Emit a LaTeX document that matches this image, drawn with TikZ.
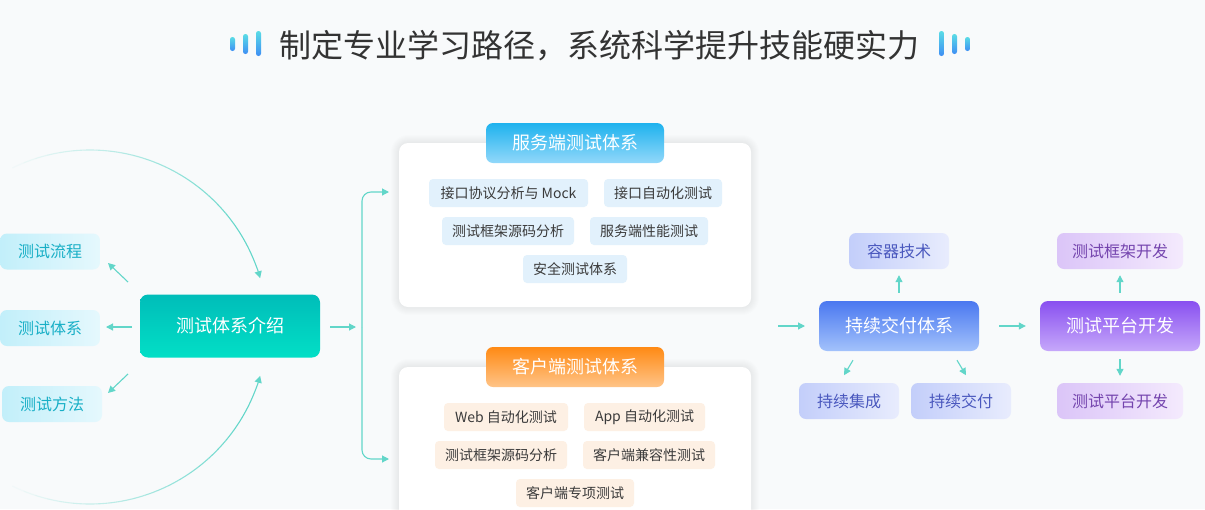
\documentclass[tikz,border=0pt]{standalone}
\usepackage{fontspec}
\setmainfont{Noto Sans CJK SC}
\usetikzlibrary{arrows.meta,calc}
\definecolor{bgc}{HTML}{F8FAFB}
\definecolor{arrc}{HTML}{62D6C9}
\definecolor{titlec}{HTML}{333333}
\definecolor{itemtxt}{HTML}{3A3A3A}
\definecolor{barTop}{HTML}{5ADCE6}
\definecolor{barBot}{HTML}{3E8EF4}
\definecolor{tealTop}{HTML}{00BDB9}
\definecolor{tealBot}{HTML}{02DFC6}
\definecolor{cyanL}{HTML}{C2EFFA}
\definecolor{cyanR}{HTML}{E5F8FD}
\definecolor{cyanTxt}{HTML}{18AFC6}
\definecolor{srvTop}{HTML}{1EB2EE}
\definecolor{srvBot}{HTML}{92D8FA}
\definecolor{srvItem}{HTML}{E2F1FC}
\definecolor{cliTop}{HTML}{FF8A14}
\definecolor{cliBot}{HTML}{FFC488}
\definecolor{cliItem}{HTML}{FDF0E4}
\definecolor{blueTop}{HTML}{4A78F0}
\definecolor{blueBot}{HTML}{A3C2FB}
\definecolor{blueL}{HTML}{C3CEFA}
\definecolor{blueR}{HTML}{E8ECFD}
\definecolor{blueTxt}{HTML}{4A58BE}
\definecolor{purTop}{HTML}{8950F0}
\definecolor{purBot}{HTML}{C6A8FA}
\definecolor{purL}{HTML}{DBC5F8}
\definecolor{purR}{HTML}{F4EAFD}
\definecolor{purTxt}{HTML}{7444AE}
\begin{document}
\begin{tikzpicture}[x=1pt,y=-1pt,
  arr/.style={draw=arrc, line width=1.1pt, -{Triangle[length=7pt,width=7pt]}},
  bar/.style={rounded corners=2.4pt, top color=barTop, bottom color=barBot, draw=none},
  mainbox/.style={rounded corners=8pt, minimum width=#1, minimum height=50pt, inner sep=0pt,
     text=white, font=\fontsize{18}{20}\selectfont},
  sidebox/.style={rounded corners=7pt, minimum width=#1, minimum height=36pt, inner sep=0pt,
     font=\fontsize{16}{18}\selectfont},
  item/.style={rounded corners=4pt, minimum height=28pt, inner sep=0pt, minimum width=#1,
     text=itemtxt, font=\fontsize{14}{16}\selectfont},
  header/.style={rounded corners=7pt, minimum width=178pt, minimum height=40pt, inner sep=0pt,
     text=white, font=\fontsize{18}{20}\selectfont},
  panel/.style={rounded corners=9pt, fill=white, draw=none, minimum width=352pt, inner sep=0pt}
]
\fill[bgc] (0,0) rectangle (1205,509);
\useasboundingbox (0,0) rectangle (1205,509);
\clip (0,0) rectangle (1205,509);

% ---------- title ----------
\node[font=\fontsize{32}{36}\selectfont, text=titlec, inner sep=0pt] (title) at (599,46) {制定专业学习路径，系统科学提升技能硬实力};
\shade[bar] (230,37) rectangle (235,51);
\shade[bar] (243,34) rectangle (248,54);
\shade[bar] (256,31) rectangle (261,56);
\shade[bar] (939,31) rectangle (944,56);
\shade[bar] (952,34) rectangle (957,54);
\shade[bar] (965,37) rectangle (970,51);

% ---------- left part ----------
\node[mainbox=180pt, minimum height=63pt, top color=tealTop, bottom color=tealBot] (intro) at (230,326) {测试体系介绍};
\node[sidebox=100pt, left color=cyanL, right color=cyanR, text=cyanTxt] (flow) at (50,251.5) {测试流程};
\node[sidebox=100pt, left color=cyanL, right color=cyanR, text=cyanTxt] (sys) at (50,328) {测试体系};
\node[sidebox=100pt, left color=cyanL, right color=cyanR, text=cyanTxt] (meth) at (52,404) {测试方法};

\coordinate (fA) at (128,282);
\coordinate (fB) at (108,263);
\coordinate (sA) at (132,327);
\coordinate (sB) at (106,327);
\coordinate (mA) at (128,374);
\coordinate (mB) at (108,393);
\draw[arr] (fA) -- (fB);
\draw[arr] (sA) -- (sB);
\draw[arr] (mA) -- (mB);

% fading arcs
\coordinate (ctr) at (90,327);
\foreach \i in {0,...,23}{
  \pgfmathsetmacro{\a}{-120+\i*4}
  \pgfmathsetmacro{\b}{-120+(\i+1)*4}
  \pgfmathsetmacro{\p}{min(100,\i*4.6)}
  \draw[draw=arrc!\p!bgc, line width=1.1pt] ($(ctr)+(\a:177)$) arc[start angle=\a, end angle=\b, radius=177];
  \pgfmathsetmacro{\c}{120-\i*4}
  \pgfmathsetmacro{\d}{120-(\i+1)*4}
  \draw[draw=arrc!\p!bgc, line width=1.1pt] ($(ctr)+(\c:177)$) arc[start angle=\c, end angle=\d, radius=177];
}
\coordinate (arcTopEnd) at ($(ctr)+(-24:177)$);
\coordinate (arcBotEnd) at ($(ctr)+(24:177)$);
\draw[arr] (arcTopEnd) arc[start angle=-24, end angle=-16, radius=177];
\draw[arr] (arcBotEnd) arc[start angle=24, end angle=16, radius=177];

% connector to panels
\coordinate (iOut) at (330,327);
\coordinate (br) at (356,327);
\draw[arr] (iOut) -- (br);
\coordinate (brV) at (362,327);
\coordinate (sT) at (389,192);
\coordinate (cT) at (389,459);
\draw[arr, rounded corners=9pt] (brV) |- (sT);
\draw[arr, rounded corners=9pt] (brV) |- (cT);

% ---------- panels with soft shadow ----------
\foreach \k in {1,...,8}{
  \fill[black, opacity=0.006, rounded corners=9pt+\k pt] (399-\k,143-\k) rectangle (751+\k,307+\k);
  \fill[black, opacity=0.006, rounded corners=9pt+\k pt] (399-\k,367-\k) rectangle (751+\k,530);
}
\node[panel, minimum height=164pt] (srv) at (575,225) {};
\node[panel, minimum height=160pt] (cli) at (575,447) {};

\node[header, top color=srvTop, bottom color=srvBot] (srvH) at (575,143) {服务端测试体系};
\node[item=159pt, fill=srvItem] (s1) at (508.5,193) {接口协议分析与 Mock};
\node[item=118pt, fill=srvItem] (s2) at (663,193) {接口自动化测试};
\node[item=132pt, fill=srvItem] (s3) at (508,231) {测试框架源码分析};
\node[item=118pt, fill=srvItem] (s4) at (649,231) {服务端性能测试};
\node[item=104pt, fill=srvItem] (s5) at (575,269) {安全测试体系};

\node[header, top color=cliTop, bottom color=cliBot] (cliH) at (575,367) {客户端测试体系};
\node[item=124pt, fill=cliItem] (c1) at (506,417) {Web 自动化测试};
\node[item=121pt, fill=cliItem] (c2) at (644.5,417) {App 自动化测试};
\node[item=132pt, fill=cliItem] (c3) at (501,455) {测试框架源码分析};
\node[item=132pt, fill=cliItem] (c4) at (649,455) {客户端兼容性测试};
\node[item=118pt, fill=cliItem] (c5) at (575,493) {客户端专项测试};

% ---------- right part ----------
\node[mainbox=160pt, top color=blueTop, bottom color=blueBot] (cd) at (899,326) {持续交付体系};
\node[sidebox=100pt, left color=blueL, right color=blueR, text=blueTxt] (ct) at (899,251) {容器技术};
\node[sidebox=100pt, left color=blueL, right color=blueR, text=blueTxt] (ci) at (849,401) {持续集成};
\node[sidebox=100pt, left color=blueL, right color=blueR, text=blueTxt] (cdl) at (961,401) {持续交付};

\node[mainbox=160pt, top color=purTop, bottom color=purBot] (tp) at (1120,326) {测试平台开发};
\node[sidebox=126pt, left color=purL, right color=purR, text=purTxt] (tf) at (1120,251) {测试框架开发};
\node[sidebox=126pt, left color=purL, right color=purR, text=purTxt] (tpl) at (1120,401) {测试平台开发};

\coordinate (cdIn) at (778,326);
\coordinate (cdInE) at (805,326);
\draw[arr] (cdIn) -- (cdInE);
\draw[arr] ($(cd.east)+(20,0)$) coordinate (tpIn) -- ($(tp.west)+(-14,0)$) coordinate (tpInE);
\draw[arr] ($(cd.north)+(0,-8)$) coordinate (ctA) -- ($(ct.south)+(0,6)$) coordinate (ctB);
\draw[arr] ($(cd.south)+(-46,9)$) coordinate (ciA) -- ($(cd.south)+(-55,24)$) coordinate (ciB);
\draw[arr] ($(cd.south)+(58,9)$) coordinate (cdA) -- ($(cd.south)+(67,24)$) coordinate (cdB);
\draw[arr] ($(tp.north)+(0,-8)$) coordinate (tfA) -- ($(tf.south)+(0,6)$) coordinate (tfB);
\draw[arr] ($(tp.south)+(0,8)$) coordinate (tplA) -- ($(tpl.north)+(0,-7)$) coordinate (tplB);
\end{tikzpicture}
\end{document}
